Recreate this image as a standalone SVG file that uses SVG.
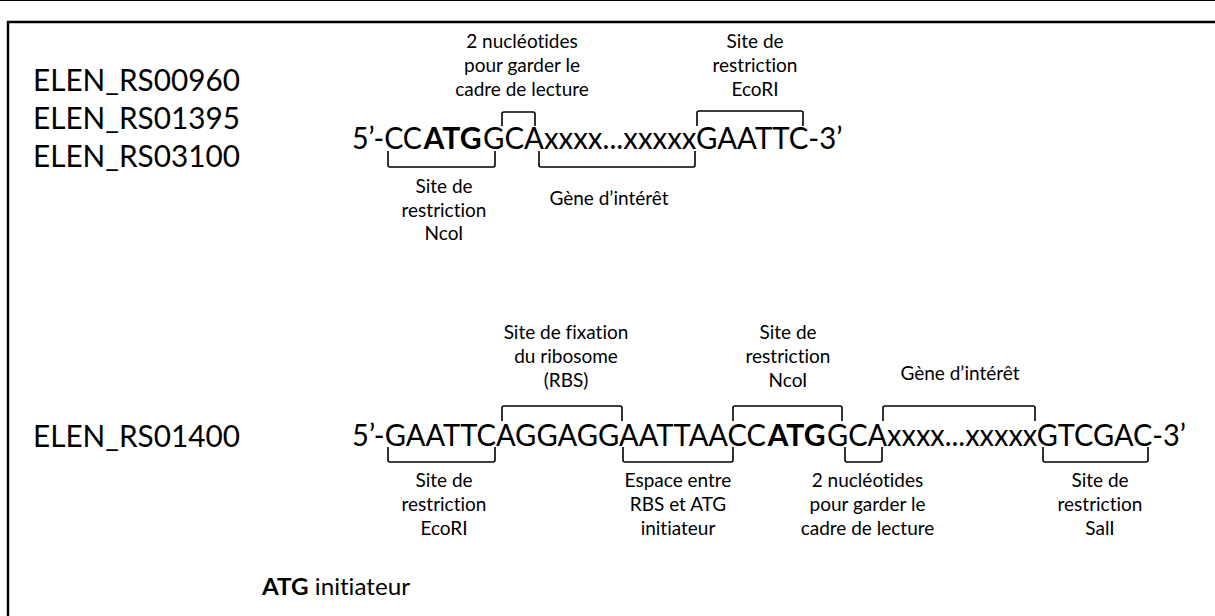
<svg xmlns="http://www.w3.org/2000/svg" width="1215" height="616" viewBox="0 0 1215 616">
<style>
text{font-family:Lato,"Liberation Sans",sans-serif;fill:#000;font-variant-ligatures:none;font-feature-settings:"liga" 0}
.id{font-size:31px}
.seq{font-size:31px}
.b{font-weight:bold}
.lbl{font-size:19px;text-anchor:middle}
.leg{font-size:23px}
.br{fill:none;stroke:#000;stroke-width:1.6}
.frame{fill:none;stroke:#000}
</style>
<rect width="1215" height="616" fill="#fff"/>
<g id="frame">
<line class="frame" x1="0" y1="0.5" x2="1215" y2="0.5" stroke-width="1"/>
<path class="frame" d="M8 616 V22 H1215" stroke-width="2.4"/>
</g>
<g id="ids-top">
<text class="id" x="33" y="91" textLength="207" lengthAdjust="spacingAndGlyphs">ELEN_RS00960</text>
<text class="id" x="33" y="129" textLength="207" lengthAdjust="spacingAndGlyphs">ELEN_RS01395</text>
<text class="id" x="33" y="167" textLength="207" lengthAdjust="spacingAndGlyphs">ELEN_RS03100</text>
</g>
<g id="id-bottom">
<text class="id" x="33" y="447" textLength="207" lengthAdjust="spacingAndGlyphs">ELEN_RS01400</text>
</g>
<g id="seq-top">
<text class="seq" y="149"><tspan x="352" textLength="70" lengthAdjust="spacingAndGlyphs">5’-CC</tspan><tspan class="b" x="423.5" textLength="58" lengthAdjust="spacingAndGlyphs">ATG</tspan><tspan x="483" textLength="359.5" lengthAdjust="spacingAndGlyphs">GCAxxxx...xxxxxGAATTC-3’</tspan></text>
</g>
<g id="seq-bottom">
<text class="seq" y="446"><tspan x="352" textLength="414" lengthAdjust="spacingAndGlyphs">5’-GAATTCAGGAGGAATTAACC</tspan><tspan class="b" x="767.5" textLength="58" lengthAdjust="spacingAndGlyphs">ATG</tspan><tspan x="827" textLength="359" lengthAdjust="spacingAndGlyphs">GCAxxxx...xxxxxGTCGAC-3’</tspan></text>
</g>
<g id="lbl-top-2nt">
<text class="lbl" x="522" y="48">2 nucléotides</text>
<text class="lbl" x="522" y="72">pour garder le</text>
<text class="lbl" x="522" y="96">cadre de lecture</text>
</g>
<g id="lbl-top-ecori">
<text class="lbl" x="755" y="48">Site de</text>
<text class="lbl" x="755" y="72">restriction</text>
<text class="lbl" x="755" y="96">EcoRI</text>
</g>
<g id="lbl-top-ncoi">
<text class="lbl" x="444" y="193">Site de</text>
<text class="lbl" x="444" y="217">restriction</text>
<text class="lbl" x="444" y="240">NcoI</text>
</g>
<g id="lbl-top-gene">
<text class="lbl" x="609" y="205">Gène d’intérêt</text>
</g>
<g id="lbl-bot-rbs">
<text class="lbl" x="566" y="339">Site de fixation</text>
<text class="lbl" x="566" y="363">du ribosome</text>
<text class="lbl" x="566" y="387">(RBS)</text>
</g>
<g id="lbl-bot-ncoi">
<text class="lbl" x="788" y="339">Site de</text>
<text class="lbl" x="788" y="363">restriction</text>
<text class="lbl" x="788" y="387">NcoI</text>
</g>
<g id="lbl-bot-gene">
<text class="lbl" x="960" y="380">Gène d’intérêt</text>
</g>
<g id="lbl-bot-ecori">
<text class="lbl" x="444" y="487">Site de</text>
<text class="lbl" x="444" y="511">restriction</text>
<text class="lbl" x="444" y="535">EcoRI</text>
</g>
<g id="lbl-bot-espace">
<text class="lbl" x="678" y="487">Espace entre</text>
<text class="lbl" x="678" y="511">RBS et ATG</text>
<text class="lbl" x="678" y="535">initiateur</text>
</g>
<g id="lbl-bot-2nt">
<text class="lbl" x="867.5" y="487">2 nucléotides</text>
<text class="lbl" x="867.5" y="511">pour garder le</text>
<text class="lbl" x="867.5" y="535">cadre de lecture</text>
</g>
<g id="lbl-bot-sali">
<text class="lbl" x="1100" y="487">Site de</text>
<text class="lbl" x="1100" y="511">restriction</text>
<text class="lbl" x="1100" y="535">SalI</text>
</g>
<g id="legend">
<text class="leg" x="262" y="595" textLength="148" lengthAdjust="spacingAndGlyphs"><tspan class="b">ATG</tspan> initiateur</text>
</g>
<g id="connectors">
<path class="br" d="M502 126 V114 Q502 112 504 112 H533 Q535 112 535 114 V126"/>
<path class="br" d="M697 126 V113 Q697 111 699 111 H801 Q803 111 803 113 V126"/>
<path class="br" d="M388 151 V165 Q388 167 390 167 H493 Q495 167 495 165 V151"/>
<path class="br" d="M539 151 V165 Q539 167 541 167 H693 Q695 167 695 165 V151"/>
<path class="br" d="M502 421 V408 Q502 406 504 406 H620 Q622 406 622 408 V421"/>
<path class="br" d="M733 421 V408 Q733 406 735 406 H840 Q842 406 842 408 V421"/>
<path class="br" d="M883 421 V408 Q883 406 885 406 H1033 Q1035 406 1035 408 V421"/>
<path class="br" d="M388 447 V460 Q388 462 390 462 H493 Q495 462 495 460 V447"/>
<path class="br" d="M623 447 V460 Q623 462 625 462 H731 Q733 462 733 460 V447"/>
<path class="br" d="M845 447 V460 Q845 462 847 462 H880 Q882 462 882 460 V447"/>
<path class="br" d="M1043 447 V460 Q1043 462 1045 462 H1146 Q1148 462 1148 460 V447"/>
</g>
</svg>
